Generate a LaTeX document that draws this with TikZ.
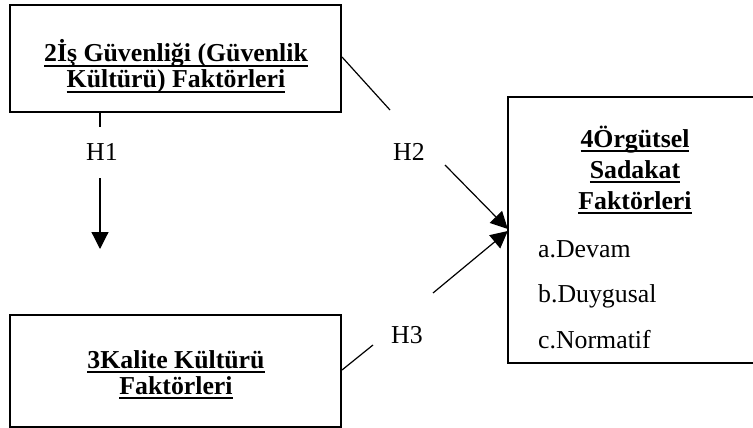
\documentclass[tikz,border=0pt]{standalone}
\usepackage{fontspec}
\setmainfont{Liberation Serif}
\usetikzlibrary{arrows.meta}
\newcommand\ulx[1]{\setbox0\hbox{#1}\rlap{\rule[-4.6pt]{\wd0}{1.9pt}}\box0}
\begin{document}
\begin{tikzpicture}[x=1pt,y=-1pt,
  box/.style={draw,line width=2pt,inner sep=0pt},
  ttl/.style={font=\fontsize{25.8}{30}\bfseries\selectfont,inner sep=0pt,anchor=base},
  lbl/.style={font=\fontsize{25.8}{30}\selectfont,inner sep=0pt,anchor=base},
  itm/.style={font=\fontsize{25.8}{30}\selectfont,inner sep=0pt,anchor=base west},
  conn/.style={line width=1.2pt},
  arr/.style={line width=1.2pt,-{Triangle[length=17pt,width=17pt]}}]
\useasboundingbox (0,0) rectangle (753,428);
% boxes
\node[box,minimum width=331pt,minimum height=107pt] (b1) at (175.5,58.5) {};
\node[box,minimum width=331pt,minimum height=112pt] (b3) at (175.5,371) {};
\node[inner sep=0pt,minimum width=256pt,minimum height=266pt] (b4) at (636,230) {};
\draw[line width=2pt] (b4.north east) ++(10,0) -- (b4.north west) -- (b4.south west) -- ++(260,0);
% titles
\node[ttl] (t1a) at (176,62) {\ulx{2İş Güvenliği (Güvenlik}};
\node[ttl] (t1b) at (176,88) {\ulx{Kültürü) Faktörleri}};
\node[ttl] (t3a) at (176,368) {\ulx{3Kalite Kültürü}};
\node[ttl] (t3b) at (176,394) {\ulx{Faktörleri}};
\node[ttl] (t4a) at (635,147) {\ulx{4Örgütsel}};
\node[ttl] (t4b) at (635,178) {\ulx{Sadakat}};
\node[ttl] (t4c) at (635,209) {\ulx{Faktörleri}};
\node[itm] (i1) at (538,257) {a.Devam};
\node[itm] (i2) at (538,302) {b.Duygusal};
\node[itm] (i3) at (538,348) {c.Normatif};
% labels
\node[lbl] (h1) at (102,160) {H1};
\node[lbl] (h2) at (409,160) {H2};
\node[lbl] (h3) at (407,343) {H3};
% coordinates
\coordinate (h1a) at (100,127);
\coordinate (h1b) at (100,178);
\coordinate (h2a) at (390,110);
\coordinate (h2b) at (445,165);
\coordinate (h3a) at (373,345);
\coordinate (h3b) at (433,293);
% connectors
\draw[conn] (b1.south -| h1a) -- (h1a);
\draw[arr] (h1b) -- (100,249);
\draw[conn] (b1.east |- 0,57) -- (h2a);
\draw[arr] (h2b) -- (b4.west |- 0,229);
\draw[conn] (b3.east |- 0,370) -- (h3a);
\draw[arr] (h3b) -- (b4.west |- 0,231);
\end{tikzpicture}
\end{document}
